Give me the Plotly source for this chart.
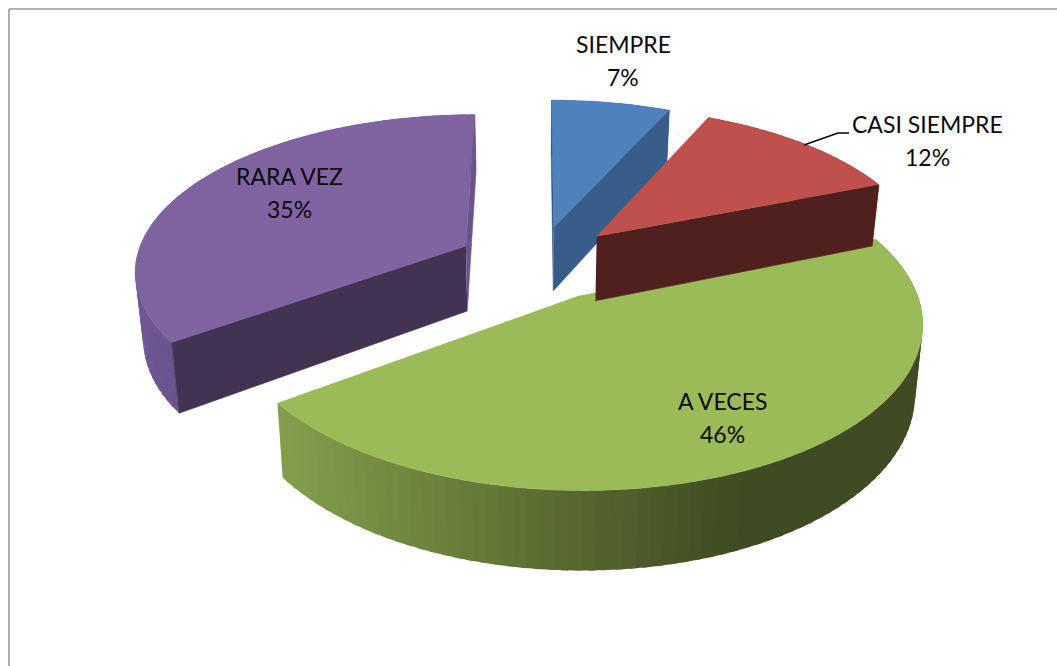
import numpy as np
import plotly.graph_objects as go

# ---- data ----
categories = ["SIEMPRE", "CASI SIEMPRE", "A VECES", "RARA VEZ"]
values = [6.8, 12.2, 46, 35]

# ---- style ----
top_colors = ["#4f81bd", "#c0504d", "#9bbb59", "#8064a2"]
# cut-face colours: (start of slice, end of slice); None = cannot be seen
face_colors = [("#2f4f78", "#385d8a"), (None, "#4f201d"), (None, None), ("#433353", "#6b548c")]
# wall gradient stops: screen x -> rgb
wall_stops = {
    1: ([0, 2000], [(80, 32, 29), (80, 32, 29)]),
    0: ([0, 2000], [(56, 93, 138), (56, 93, 138)]),
    2: ([285, 570, 740], [(130, 158, 76), (88, 104, 48), (63, 75, 34)]),
    3: ([135, 178], [(112, 88, 150), (105, 82, 140)]),
}
draw_order = [2, 3, 0, 1]
label_pos = {
    "SIEMPRE": (623, 44),
    "CASI SIEMPRE": (927, 124),
    "A VECES": (722, 401),
    "RARA VEZ": (289, 176),
}
LINE_GAP = 33
FONT = dict(family="Lato, Carlito, Calibri, sans-serif", size=23, color="#0a0a0a")

# projection parameters (camera of the 3-D pie)
CX, CY, AX, BY = 537, 263, 331, 155
PERSP, DEPTH, CONVERGE = 0.145, 66, 0.98
EXPLODE = [0.245, 0.255, 0.24, 0.245]
FIRST_ANGLE = 0.0


def project(X, Y, bottom=False):
    w = 1 + PERSP * np.asarray(Y, dtype=float)
    sx = AX * np.asarray(X, dtype=float) / w
    sy = CY - BY * np.asarray(Y, dtype=float) / w
    if bottom:
        sx = sx * CONVERGE
        sy = sy + DEPTH / w
    return CX + sx, sy


total = sum(values)
edges = FIRST_ANGLE + np.cumsum([0] + values) / total * 360.0

fig = go.Figure()


def poly(xs, ys, color, edge=0.6):
    fig.add_trace(go.Scatter(
        x=list(xs), y=list(ys), mode="lines", fill="toself", fillcolor=color,
        line=dict(color=color, width=edge), hoverinfo="skip", showlegend=False,
    ))


for i in draw_order:
    a0, a1 = edges[i], edges[i + 1]
    mid = np.radians((a0 + a1) / 2)
    ox, oy = EXPLODE[i] * np.sin(mid), EXPLODE[i] * np.cos(mid)
    th = np.radians(np.linspace(a0, a1, int(a1 - a0) + 2))
    rx, ry = ox + np.sin(th), oy + np.cos(th)
    tx, ty = project(rx, ry)
    bx, by = project(rx, ry, bottom=True)
    apx, apy = project(ox, oy)
    abx, aby = project(ox, oy, bottom=True)

    # outer wall: overlapping strips so the shading follows the rim without seams
    stops_x, stops_c = wall_stops[i]
    step = 2
    for k in range(0, len(th) - 1, step):
        e = min(k + step + 1, len(th) - 1)
        xm = (tx[k] + tx[e]) / 2
        c = [np.interp(xm, stops_x, [s[j] for s in stops_c]) for j in range(3)]
        xs = list(tx[k:e + 1]) + list(bx[k:e + 1][::-1])
        ys = list(ty[k:e + 1]) + list(by[k:e + 1][::-1])
        poly(xs, ys, "rgb(%d,%d,%d)" % tuple(c), edge=0)

    # the cut faces that can be seen
    start_col, end_col = face_colors[i]
    if start_col:
        poly([apx, tx[0], bx[0], abx], [apy, ty[0], by[0], aby], start_col)
    if end_col:
        poly([apx, tx[-1], bx[-1], abx], [apy, ty[-1], by[-1], aby], end_col)

    # top face
    poly([apx, *tx], [apy, *ty], top_colors[i])

# leader line of CASI SIEMPRE
leader_x = [849, 838, 804]
leader_y = [133, 133, 145]
fig.add_trace(go.Scatter(x=leader_x, y=leader_y, mode="lines",
                         line=dict(color="#000000", width=1.5),
                         hoverinfo="skip", showlegend=False))

annotations = []
for name, v in zip(categories, values):
    x, y = label_pos[name]
    for text, yy in ((name, y), ("%d%%" % round(v / total * 100), y + LINE_GAP)):
        annotations.append(dict(x=x, y=yy, xref="x", yref="y", text=text, showarrow=False,
                                xanchor="center", yanchor="middle", font=FONT))

border = dict(color="#9a9a9a", width=1.6)
fig.update_layout(
    width=1057, height=666, margin=dict(l=0, r=0, t=0, b=0),
    paper_bgcolor="#ffffff", plot_bgcolor="#ffffff", showlegend=False,
    xaxis=dict(range=[0, 1057], visible=False, fixedrange=True),
    yaxis=dict(range=[666, 0], visible=False, fixedrange=True),
    annotations=annotations,
    shapes=[
        dict(type="line", xref="x", yref="y", x0=9, y0=9, x1=1057, y1=9, line=border),
        dict(type="line", xref="x", yref="y", x0=9, y0=9, x1=9, y1=666, line=border),
    ],
)
fig.write_html("out.html", post_script="document.body.style.margin='0';document.body.style.overflow='hidden';",
               config={"displayModeBar": False})
